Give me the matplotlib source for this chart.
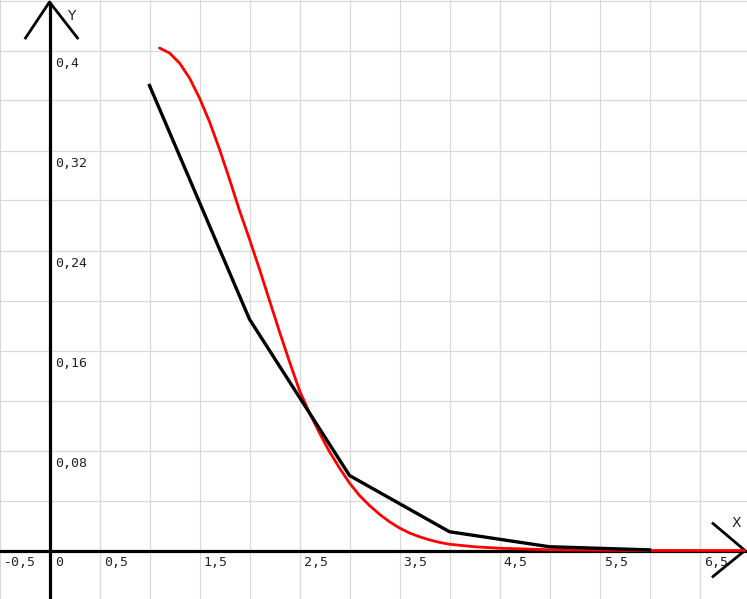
import matplotlib
matplotlib.use("Agg")
import matplotlib.pyplot as plt

# Black polyline (discrete values)
black_x = [1, 2, 3, 4, 5, 6]
black_y = [0.372, 0.185, 0.060, 0.015, 0.003, 0.0005]

# Red curve
red_x = [1.1, 1.2, 1.3, 1.4, 1.5, 1.6, 1.7, 1.8, 1.9, 2.0, 2.1, 2.2, 2.3, 2.4, 2.5,
         2.6, 2.7, 2.8, 2.9, 3.0, 3.1, 3.2, 3.3, 3.4, 3.5, 3.6, 3.7, 3.8, 3.9, 4.0,
         4.25, 4.5, 5.0, 5.5, 6.0, 6.5, 6.95]
red_y = [0.402, 0.398, 0.390, 0.378, 0.362, 0.343, 0.321, 0.297, 0.272, 0.249, 0.225,
         0.200, 0.175, 0.151, 0.128, 0.110, 0.094, 0.079, 0.066, 0.054, 0.044, 0.036,
         0.029, 0.023, 0.018, 0.014, 0.011, 0.0085, 0.0065, 0.005, 0.003, 0.0018,
         0.0006, 0.0002, 0.00005, 0.0, 0.0]

x_ticks = [-0.5, 0, 0.5, 1.5, 2.5, 3.5, 4.5, 5.5, 6.5]
x_labels = ["-0,5", "0", "0,5", "1,5", "2,5", "3,5", "4,5", "5,5", "6,5"]
y_ticks = [0.4, 0.32, 0.24, 0.16, 0.08]
y_labels = ["0,4", "0,32", "0,24", "0,16", "0,08"]

W, H = 747, 599
fig = plt.figure(figsize=(W / 100, H / 100), dpi=100)
ax = fig.add_axes([0, 0, 1, 1])
ax.set_xlim(-0.495, 6.975)
ax.set_ylim(-0.0388, 0.4404)
ax.axis("off")

px = 0.01      # x units per pixel
py = 0.0008    # y units per pixel

# grid
gx = [-0.5 + 0.5 * i for i in range(16)]
gy = [-0.04 + 0.04 * i for i in range(13)]
for g in gx:
    ax.axvline(g, color="#d9d9d9", lw=0.9, zorder=0)
for g in gy:
    ax.axhline(g, color="#d9d9d9", lw=0.9, zorder=0)

# axes
ax.axhline(0, color="black", lw=2.3, zorder=2)
ax.plot([0, 0], [-0.05, 0.4388], color="black", lw=2.3, zorder=2, solid_capstyle="butt")
# y arrow
ax.plot([-24 * px, 0, 28 * px], [0.4388 - 36 * py, 0.4388, 0.4388 - 36 * py],
        color="black", lw=2.0, zorder=2)
# x arrow
xt = 6.955
ax.plot([xt - 32 * px, xt, xt - 32 * px], [27 * py, 0, -26 * py],
        color="black", lw=2.0, zorder=2)

# data
ax.plot(red_x, red_y, color="#ff0000", lw=2.0, zorder=3,
        solid_joinstyle="round", solid_capstyle="round")
ax.plot(black_x, black_y, color="black", lw=2.4, zorder=4,
        solid_joinstyle="round")

font = dict(family="DejaVu Sans Mono", fontsize=9.5, color="#222222")
for t, lab in zip(x_ticks, x_labels):
    ax.annotate(lab, (t, 0), xytext=(3 if t != 0 else 4, -4), textcoords="offset points",
                ha="left", va="top", **font)
for t, lab in zip(y_ticks, y_labels):
    ax.annotate(lab, (0, t), xytext=(4, -5), textcoords="offset points",
                ha="left", va="top", **font)

ax.annotate("Y", (0, 0.4388), xytext=(13, -5), textcoords="offset points",
            ha="left", va="top", family="DejaVu Sans", fontsize=10, color="#222222")
ax.annotate("X", (xt, 0), xytext=(-10, 15), textcoords="offset points",
            ha="left", va="bottom", family="DejaVu Sans", fontsize=10, color="#222222")

fig.savefig("out.png", dpi=100)
